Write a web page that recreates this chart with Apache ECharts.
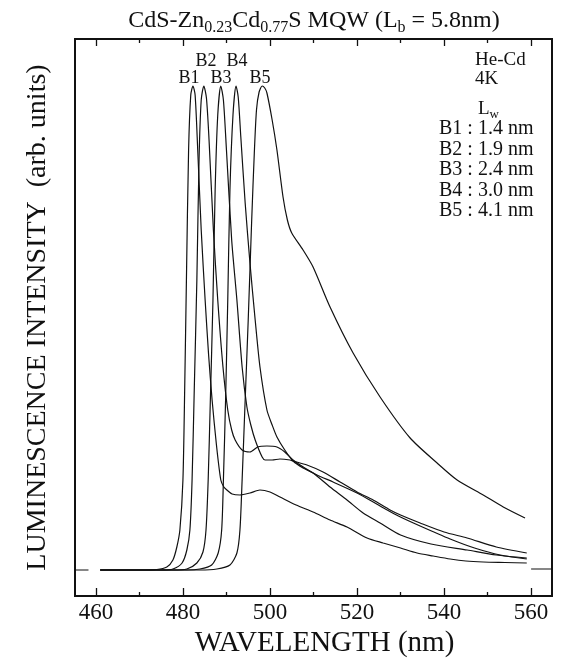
<!DOCTYPE html>
<html>
<head>
<meta charset="utf-8">
<script src="https://cdn.jsdelivr.net/npm/echarts@6/dist/echarts.min.js"></script>
<style>
html, body { margin: 0; padding: 0; background: #fff; }
#chart { width: 562px; height: 666px; }
</style>
</head>
<body>
<div id="chart"></div>
<script>
// spectra: [wavelength nm, intensity arb. units above baseline]
var b1 = [[461,0],[470,0],[474,0.5],[476.3,3],[477.7,10],[478.6,23],[479.3,40],[480.0,90],[480.4,180],[480.8,290],[481.3,420],[481.8,475],[482.3,484],[482.8,475],[483.4,420],[484.2,340],[485.1,270],[485.9,215],[486.7,170],[487.7,125],[488.7,90],[489.4,83],[490.1,80],[491.3,76],[493.1,75],[495.4,77],[497.7,80],[500,78],[502.3,73],[506,65],[509.9,58],[513.8,50],[517.7,43],[522.3,32],[526,27],[530,22],[533.8,17],[537.5,14],[541.4,11],[545,9],[549,8],[554,7.5],[559,7]];
var b2 = [[461,0],[475.4,0],[477.7,1],[479.8,7],[480.9,20],[481.6,40],[482.1,90],[482.6,180],[483.2,290],[483.7,410],[484.2,470],[484.8,484],[485.4,472],[486.0,430],[487.0,340],[488.0,270],[489.2,203],[490.3,160],[491.2,140],[492.0,130],[493.6,120],[495.4,118],[497.2,123],[499.3,124],[501.6,123],[503.4,118],[505.3,110],[508,102],[510.8,95],[514.5,88],[520,77],[525.3,64],[529.5,54],[534.5,44],[541.4,31],[547,22],[552.9,15],[559,11]];
var b3 = [[461,0],[477.7,0],[480.9,1],[483.2,7],[484.6,18],[485.3,40],[485.8,90],[486.3,170],[486.9,270],[487.4,380],[488.0,455],[488.7,484],[489.3,470],[490.0,420],[491.2,330],[492.4,270],[493.6,203],[494.7,163],[495.6,145],[496.6,130],[498.2,113],[498.9,110],[500.5,110],[502.3,111],[504.6,110],[505.3,109],[508.5,105],[512.2,98],[516.1,88],[520,78],[523.7,70],[527.6,60],[530,55],[534.5,47],[540,38],[545.3,32],[552,23],[559,17]];
var b4 = [[461,0],[480.9,0],[483.9,1],[486.6,5],[488.1,17],[488.9,40],[489.3,90],[489.8,170],[490.3,270],[490.8,380],[491.5,455],[492.2,484],[492.7,473],[493.3,433],[494.3,367],[495.4,307],[496.6,250],[497.7,203],[499.3,160],[500.5,145],[501.6,133],[503.4,120],[505.3,109],[507.6,102],[509.9,97],[513.8,83],[517.7,70],[521.4,57],[525.3,47],[530,35],[537,26],[545.3,20],[552,15],[559,12]];
var b5 = [[461,0],[483.9,0],[487.8,1],[490.8,5],[492.4,17],[493.1,40],[493.6,90],[494.3,170],[495.0,250],[495.8,350],[496.4,417],[496.9,460],[497.5,478],[498.2,484],[498.8,482],[499.3,477],[500.5,450],[501.6,420],[503.0,373],[504.0,350],[505.0,337],[507.6,320],[509.9,303],[513.8,263],[519.1,217],[525.3,173],[532.2,132],[538.4,107],[543.0,90],[549.0,75],[553.6,63],[558.6,52]];
var zeroLeft = [[455.2,0],[458.3,0]];
var zeroRight = [[560,1],[564.8,1]];

var majorTicks = [460, 480, 500, 520, 540, 560];
var minorTicks = [470, 490, 510, 530, 550];
var wellNames = ['B1', 'B2', 'B3', 'B4', 'B5'];
var wellWidths = ['1.4', '1.9', '2.4', '3.0', '4.1'];

var xMin = 455.2, xMax = 564.8;
var yMin = -26, yMax = 531;
var serif = "'Liberation Serif', 'DejaVu Serif', serif";
var ink = '#111';

var myChart = echarts.init(document.getElementById('chart'));

function xAxisDef(pos, ticks, len, withLabels) {
    return {
        type: 'value', position: pos, min: xMin, max: xMax,
        axisLine: { show: true, onZero: false, lineStyle: { color: ink, width: 2 } },
        axisTick: { show: true, inside: true, length: len, customValues: ticks, lineStyle: { color: ink, width: 1.3 } },
        axisLabel: { show: withLabels, customValues: majorTicks, margin: 5, color: ink, fontFamily: serif, fontSize: 23 },
        splitLine: { show: false }
    };
}
function yAxisDef(pos) {
    return {
        type: 'value', position: pos, min: yMin, max: yMax,
        axisLine: { show: true, onZero: false, lineStyle: { color: ink, width: 2 } },
        axisTick: { show: false }, axisLabel: { show: false }, splitLine: { show: false }
    };
}
function spec(name, data) {
    return {
        name: name, type: 'line', data: data, showSymbol: false, smooth: 0.25,
        lineStyle: { color: ink, width: 1.2 }, silent: true
    };
}

var xBottom = xAxisDef('bottom', majorTicks, 8, true);
xBottom.name = 'WAVELENGTH (nm)';
xBottom.nameLocation = 'middle';
xBottom.nameGap = 27;
xBottom.nameTextStyle = { color: ink, fontFamily: serif, fontSize: 29, padding: [0, 0, 0, 22] };

var yLeft = yAxisDef('left');
yLeft.name = 'LUMINESCENCE INTENSITY  (arb. units)';
yLeft.nameLocation = 'middle';
yLeft.nameGap = 23;
yLeft.nameTextStyle = { color: ink, fontFamily: serif, fontSize: 28 };

var sub = { fontSize: 16, lineHeight: 16, verticalAlign: 'bottom', fontFamily: serif, fill: ink };
var legendRows = [];
for (var i = 0; i < wellNames.length; i++) {
    legendRows.push({ type: 'text', x: 439, y: 129 + i * 20.5,
        style: { text: wellNames[i] + ' : ' + wellWidths[i] + ' nm', font: '20px ' + serif, fill: ink, verticalAlign: 'middle' } });
}
var peakLabels = [
    { t: 'B1', x: 189, y: 78 }, { t: 'B2', x: 206, y: 61 }, { t: 'B3', x: 221, y: 78 },
    { t: 'B4', x: 237, y: 61 }, { t: 'B5', x: 260, y: 78 }
].map(function (p) {
    return { type: 'text', x: p.x, y: p.y,
        style: { text: p.t, font: '18px ' + serif, fill: ink, align: 'center', verticalAlign: 'middle' } };
});

var option = {
    animation: false,
    backgroundColor: '#fff',
    grid: { left: 75, right: 10, top: 39, bottom: 70, containLabel: false, outerBoundsMode: 'none' },
    xAxis: [
        xBottom,
        xAxisDef('bottom', minorTicks, 4, false),
        xAxisDef('top', majorTicks, 7, false),
        xAxisDef('top', minorTicks, 4, false)
    ],
    yAxis: [yLeft, yAxisDef('right')],
    graphic: [
        { type: 'text', x: 314, y: 21,
          style: { text: 'CdS-Zn{s|0.23}Cd{s|0.77}S MQW (L{s|b} = 5.8nm)', font: '24px ' + serif, fill: ink,
                   align: 'center', verticalAlign: 'middle', lineHeight: 30,
                   rich: { s: sub } } },
        { type: 'text', x: 475, y: 60, style: { text: 'He-Cd', font: '19px ' + serif, fill: ink, verticalAlign: 'middle' } },
        { type: 'text', x: 475, y: 79, style: { text: '4K', font: '19px ' + serif, fill: ink, verticalAlign: 'middle' } },
        { type: 'text', x: 478, y: 109,
          style: { text: 'L{w|w}', font: '19px ' + serif, fill: ink, lineHeight: 24, verticalAlign: 'middle',
                   rich: { w: { fontSize: 13, lineHeight: 13, verticalAlign: 'bottom', fontFamily: serif, fill: ink } } } }
    ].concat(legendRows).concat(peakLabels),
    series: [
        spec('B1', b1), spec('B2', b2), spec('B3', b3), spec('B4', b4), spec('B5', b5),
        spec('zeroLeft', zeroLeft), spec('zeroRight', zeroRight)
    ]
};

myChart.setOption(option);
</script>
</body>
</html>
